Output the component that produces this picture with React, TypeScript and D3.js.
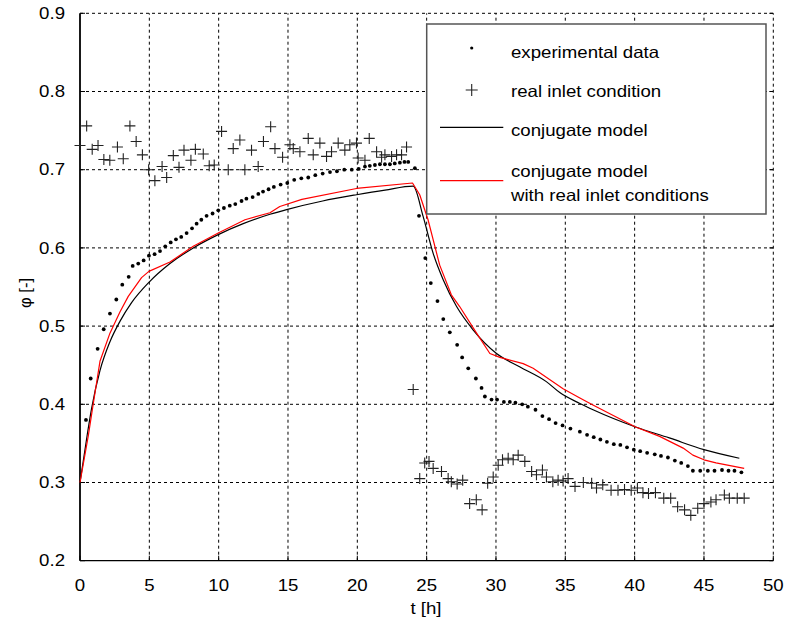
import React from "react";
import * as d3 from "d3";

const expT = [0.43,0.77,1.27,1.71,2.16,2.62,3.05,3.51,3.8,4.2,4.59,4.97,5.38,5.77,6.15,6.54,6.92,7.3,7.69,8.08,8.41,8.75,9.13,9.56,9.97,10.38,10.8,11.2,11.65,12.0,12.45,12.86,13.2,13.6,13.98,14.47,14.95,15.45,15.96,16.46,16.97,17.5,18.03,18.53,19.06,19.6,20.1,20.55,20.9,21.27,21.63,21.99,22.35,22.7,23.07,23.4,23.67,24.15,24.45,24.9,25.3,25.78,26.2,26.67,27.2,27.56,28.0,28.55,28.96,29.2,29.68,30.08,30.57,31.0,31.4,31.89,32.3,32.85,33.35,33.83,34.3,34.8,35.37,36.05,36.57,37.05,37.53,38.0,38.5,38.97,39.45,39.94,40.4,40.9,41.45,41.9,42.4,42.9,43.36,43.84,44.2,44.73,45.28,45.76,46.3,46.77,47.2,47.7];
const expPhi = [0.38,0.433,0.471,0.496,0.516,0.534,0.553,0.563,0.577,0.58,0.584,0.59,0.592,0.596,0.602,0.607,0.611,0.614,0.619,0.625,0.631,0.636,0.641,0.644,0.648,0.651,0.654,0.656,0.66,0.663,0.665,0.669,0.672,0.675,0.678,0.681,0.683,0.687,0.689,0.69,0.693,0.695,0.697,0.698,0.7,0.7,0.701,0.704,0.705,0.706,0.707,0.707,0.707,0.708,0.709,0.71,0.71,0.702,0.641,0.587,0.555,0.532,0.509,0.492,0.476,0.46,0.446,0.433,0.421,0.41,0.406,0.406,0.403,0.403,0.402,0.4,0.397,0.393,0.385,0.381,0.376,0.373,0.369,0.365,0.361,0.358,0.355,0.352,0.349,0.348,0.345,0.342,0.34,0.338,0.336,0.334,0.332,0.328,0.325,0.321,0.315,0.315,0.315,0.315,0.316,0.315,0.315,0.313];

const inletT = [0.0,0.48,0.88,1.3,1.72,2.15,2.7,3.12,3.6,4.05,4.5,4.95,5.4,5.92,6.25,6.73,7.14,7.5,8.0,8.32,8.89,9.32,9.68,10.21,10.69,11.05,11.53,11.89,12.37,12.85,13.23,13.75,14.06,14.61,15.14,15.38,15.86,16.46,16.82,17.3,17.78,18.14,18.62,19.1,19.46,19.94,20.06,20.55,20.86,21.39,21.75,21.99,22.47,22.83,23.19,23.55,24.03,24.5,24.86,25.17,25.47,26.07,26.55,26.78,27.2,27.6,28.1,28.58,29.0,29.4,29.8,30.16,30.47,30.88,31.24,31.6,32.08,32.57,32.92,33.35,33.64,34.1,34.48,34.84,35.2,35.7,36.3,36.9,37.25,37.7,38.3,38.8,39.27,39.75,40.2,40.6,41.0,41.5,42.1,42.6,43.1,43.6,44.05,44.55,45.0,45.5,45.87,46.47,46.83,47.4,47.9];
const inletPhi = [0.731,0.756,0.726,0.731,0.713,0.712,0.729,0.714,0.756,0.736,0.719,0.7,0.686,0.704,0.69,0.718,0.703,0.725,0.712,0.726,0.72,0.705,0.706,0.749,0.7,0.727,0.738,0.7,0.725,0.704,0.736,0.755,0.727,0.716,0.732,0.727,0.723,0.74,0.719,0.734,0.717,0.723,0.734,0.725,0.732,0.734,0.715,0.712,0.74,0.723,0.716,0.719,0.717,0.719,0.719,0.729,0.419,0.305,0.325,0.327,0.318,0.314,0.305,0.301,0.298,0.303,0.273,0.278,0.265,0.299,0.307,0.322,0.329,0.331,0.329,0.335,0.327,0.314,0.31,0.316,0.307,0.301,0.303,0.302,0.305,0.295,0.3,0.299,0.293,0.297,0.29,0.29,0.291,0.29,0.293,0.287,0.286,0.287,0.28,0.28,0.269,0.265,0.258,0.267,0.273,0.275,0.278,0.284,0.28,0.28,0.28];

const modelT = [0,0.53,0.84,1.44,2.16,2.88,3.72,4.97,6.49,8.17,9.97,11.77,13.7,14.9,17.5,19.94,22.0,24.03,24.75,25.47,26.2,27.16,28.36,30.04,31.7,33.63,34.6,36.05,37.0,40.07,42.5,45.0,47.55];
const modelPhi = [0.3,0.362,0.395,0.443,0.48,0.506,0.53,0.556,0.58,0.6,0.617,0.631,0.643,0.649,0.66,0.668,0.674,0.679,0.64,0.593,0.559,0.525,0.495,0.465,0.448,0.429,0.415,0.401,0.393,0.371,0.357,0.342,0.331];

const realT = [0,0.6,0.96,1.44,2.16,2.88,3.48,4.44,4.97,6.49,8.17,9.97,11.9,13.7,14.41,16.0,19.94,23.98,24.5,25.1,25.94,26.78,27.38,28.6,29.56,30.28,31.96,32.68,34.84,36.05,36.99,40.07,41.8,43.5,44.2,45.0,45.87,47.9];
const realPhi = [0.3,0.36,0.401,0.455,0.491,0.518,0.538,0.562,0.57,0.582,0.602,0.619,0.636,0.645,0.653,0.662,0.676,0.683,0.668,0.636,0.578,0.54,0.525,0.491,0.465,0.46,0.452,0.446,0.42,0.408,0.399,0.371,0.359,0.344,0.335,0.329,0.325,0.318];

const xTicks = [0,5,10,15,20,25,30,35,40,45,50];
const yTicks = [0.2,0.3,0.4,0.5,0.6,0.7,0.8,0.9];
const legendLabels = ["experimental data","real inlet condition","conjugate model","conjugate model","with real inlet conditions"];

const W = 788, H = 625;
const FONT = "'Liberation Sans', Arial, Helvetica, sans-serif";
const FS = 16.5;
const SX = 1.13;

const x = d3.scaleLinear().domain([0, 50]).range([80, 773.3]);
const y = d3.scaleLinear().domain([0.2, 0.9]).range([560.7, 13.3]);

function T({ px, py, children, anchor = "middle" }: any) {
  return (
    <text transform={`translate(${px},${py}) scale(${SX},1)`} textAnchor={anchor} dominantBaseline="central"
      fontFamily={FONT} fontSize={FS} fill="#000">{children}</text>
  );
}

function Plus({ cx, cy, s = 5.5 }: any) {
  return <path d={`M${cx - s},${cy}H${cx + s}M${cx},${cy - s}V${cy + s}`} stroke="#222" strokeWidth={1.1} fill="none" />;
}

export default function App() {
  const smooth = d3.line<number[]>().x(d => d[0]).y(d => d[1]).curve(d3.curveMonotoneX);
  const straight = d3.line<number[]>().x(d => d[0]).y(d => d[1]);
  const modelPath = smooth(modelT.map((t, i) => [x(t), y(modelPhi[i])]));
  const realPath = straight(realT.map((t, i) => [x(t), y(realPhi[i])]));
  const x0 = x(0), x1 = x(50), y0 = y(0.2), y1 = y(0.9);
  const lx0 = 426.7, ly0 = 24, lx1 = 766, ly1 = 214;
  return (
    <svg width={W} height={H} style={{ position: "absolute", left: 0, top: 0, background: "#fff" }}>
      <rect x={0} y={0} width={W} height={H} fill="#fff" />
      {xTicks.filter(t => t > 0).map(t => (
        <line key={"gx" + t} x1={x(t)} x2={x(t)} y1={y0} y2={y1} stroke="#000" strokeWidth={1} strokeDasharray="3,3" />
      ))}
      {yTicks.filter(v => v > 0.2).map(v => (
        <line key={"gy" + v} x1={x0} x2={x1} y1={y(v)} y2={y(v)} stroke="#000" strokeWidth={1} strokeDasharray="3,3" />
      ))}
      {xTicks.map(t => (
        <line key={"tx" + t} x1={x(t)} x2={x(t)} y1={y0} y2={y0 - 5} stroke="#000" strokeWidth={1} />
      ))}
      {yTicks.map(v => (
        <g key={"ty" + v}>
          <line x1={x0} x2={x0 + 5} y1={y(v)} y2={y(v)} stroke="#000" strokeWidth={1} />
          <line x1={x1} x2={x1 - 4} y1={y(v)} y2={y(v)} stroke="#000" strokeWidth={1} />
        </g>
      ))}
      <line x1={x0} x2={x0} y1={y0} y2={y1} stroke="#000" strokeWidth={1.8} />
      <line x1={x0} x2={x1} y1={y0} y2={y0} stroke="#000" strokeWidth={1.3} />
      {inletT.map((t, i) => <Plus key={"p" + i} cx={x(t)} cy={y(inletPhi[i])} />)}
      {expT.map((t, i) => <circle key={"d" + i} cx={x(t)} cy={y(expPhi[i])} r={1.9} fill="#000" />)}
      <path d={modelPath || ""} stroke="#000" strokeWidth={1.2} fill="none" />
      <path d={realPath || ""} stroke="#ff0000" strokeWidth={1.2} fill="none" strokeLinejoin="round" />
      {xTicks.map(t => <T key={"lx" + t} px={x(t)} py={585}>{String(t)}</T>)}
      {yTicks.map(v => <T key={"ly" + v} px={65} py={y(v)} anchor="end">{v.toFixed(1)}</T>)}
      <T px={426} py={608}>t [h]</T>
      <text transform={`translate(25,293) rotate(-90)`} textAnchor="middle" dominantBaseline="central"
        fontFamily={FONT} fontSize={FS} fill="#000">φ [-]</text>
      <rect x={lx0} y={ly0} width={lx1 - lx0} height={ly1 - ly0} fill="#fff" stroke="#555" strokeWidth={1.5} />
      <circle cx={471.7} cy={48} r={1.6} fill="#000" />
      <Plus cx={471.7} cy={90} s={6} />
      <line x1={440} x2={503.3} y1={127.3} y2={127.3} stroke="#000" strokeWidth={1.2} />
      <line x1={440} x2={503.3} y1={180.7} y2={180.7} stroke="#ff0000" strokeWidth={1.2} />
      <T px={511} py={52} anchor="start">{legendLabels[0]}</T>
      <T px={511} py={91} anchor="start">{legendLabels[1]}</T>
      <T px={511} py={130} anchor="start">{legendLabels[2]}</T>
      <T px={511} py={171.5} anchor="start">{legendLabels[3]}</T>
      <T px={511} py={195} anchor="start">{legendLabels[4]}</T>
    </svg>
  );
}
